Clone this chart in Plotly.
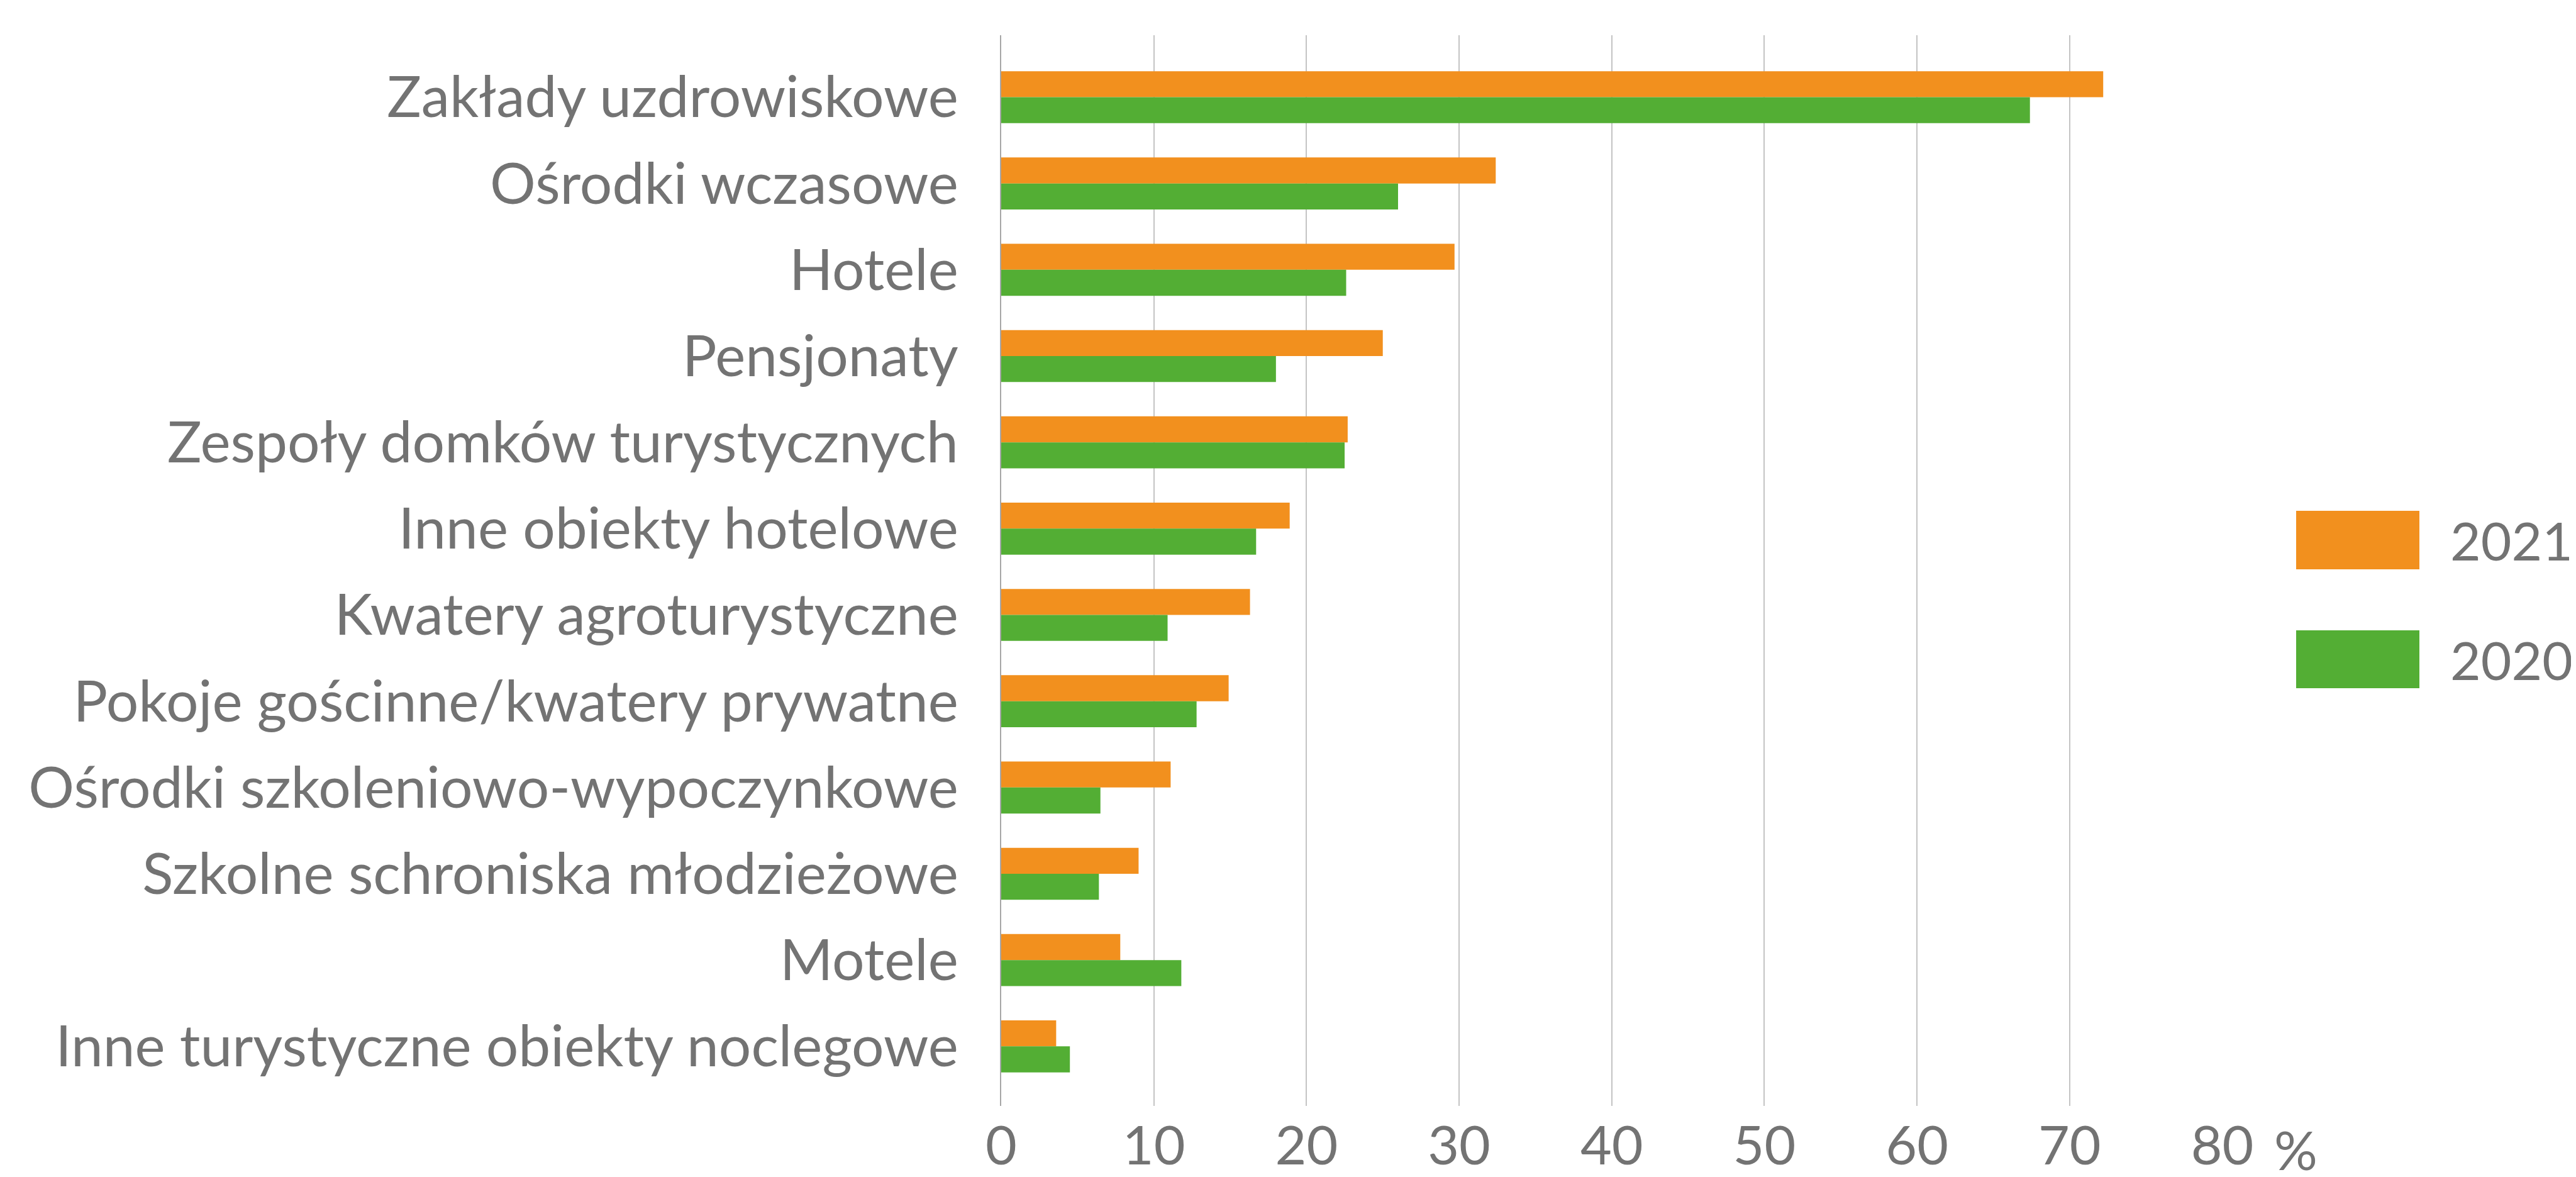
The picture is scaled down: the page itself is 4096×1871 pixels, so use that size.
import plotly.graph_objects as go

categories = [
    "Zakłady uzdrowiskowe",
    "Ośrodki wczasowe",
    "Hotele",
    "Pensjonaty",
    "Zespoły domków turystycznych",
    "Inne obiekty hotelowe",
    "Kwatery agroturystyczne",
    "Pokoje gościnne/kwatery prywatne",
    "Ośrodki szkoleniowo-wypoczynkowe",
    "Szkolne schroniska młodzieżowe",
    "Motele",
    "Inne turystyczne obiekty noclegowe",
]
values_2021 = [72.2, 32.4, 29.7, 25.0, 22.7, 18.9, 16.3, 14.9, 11.1, 9.0, 7.8, 3.6]
values_2020 = [67.4, 26.0, 22.6, 18.0, 22.5, 16.7, 10.9, 12.8, 6.5, 6.4, 11.8, 4.5]
series_names = ["2021", "2020"]
x_ticks = [0, 10, 20, 30, 40, 50, 60, 70, 80]

ORANGE = "#F2901E"
GREEN = "#53AE34"
TEXT = "#737373"
FONT = "Lato"

W, H = 4096, 1871
L, R, T, B = 1584, 570, 48, 121
PW, PH = W - L - R, H - T - B


def px_x(x):
    return (x - L) / PW


def px_y(y):
    return (H - B - y) / PH


fig = go.Figure()
fig.add_trace(go.Bar(y=categories, x=values_2021, name=series_names[0], orientation="h",
                     marker=dict(color=ORANGE, line=dict(width=0)), showlegend=False))
fig.add_trace(go.Bar(y=categories, x=values_2020, name=series_names[1], orientation="h",
                     marker=dict(color=GREEN, line=dict(width=0)), showlegend=False))

# legend drawn manually (large swatches)
legend_items = [(series_names[0], ORANGE, 804, 897), (series_names[1], GREEN, 994, 1086)]
for name, col, y0, y1 in legend_items:
    fig.add_shape(type="rect", xref="paper", yref="paper",
                  x0=px_x(3643), x1=px_x(3839), y0=px_y(y1), y1=px_y(y0),
                  fillcolor=col, line=dict(width=0))
    fig.add_annotation(xref="paper", yref="paper", x=px_x(3886), y=px_y((y0 + y1) / 2),
                       text=name, showarrow=False, xanchor="left", yanchor="middle",
                       font=dict(family=FONT, size=84, color=TEXT))

# percent sign after the last tick label
fig.add_annotation(xref="x", yref="paper", x=x_ticks[-1], y=px_y(1818), xshift=80,
                   text="%", showarrow=False, xanchor="left", yanchor="middle",
                   font=dict(family=FONT, size=86, color=TEXT))

fig.update_layout(
    width=W, height=H,
    margin=dict(l=L, r=R, t=T, b=B, autoexpand=False),
    paper_bgcolor="white", plot_bgcolor="white",
    barmode="group", bargap=0.397, bargroupgap=0,
    font=dict(family=FONT, size=90, color=TEXT),
)
fig.update_xaxes(
    range=[0, 80.02], tickvals=x_ticks, ticktext=[str(v) for v in x_ticks],
    showgrid=True, gridcolor="#c4c4c4", gridwidth=2, zeroline=False,
    showline=False, ticks="", ticklabelstandoff=6,
    tickfont=dict(family=FONT, size=86, color=TEXT),
)
fig.update_yaxes(
    categoryorder="array", categoryarray=categories,
    range=[11.69, -0.718], showgrid=False, zeroline=False,
    showline=True, linecolor="#a6a6a6", linewidth=2, ticks="",
    ticklabelstandoff=48,
    tickfont=dict(family=FONT, size=91, color=TEXT),
)

fig.write_html("out.html")
